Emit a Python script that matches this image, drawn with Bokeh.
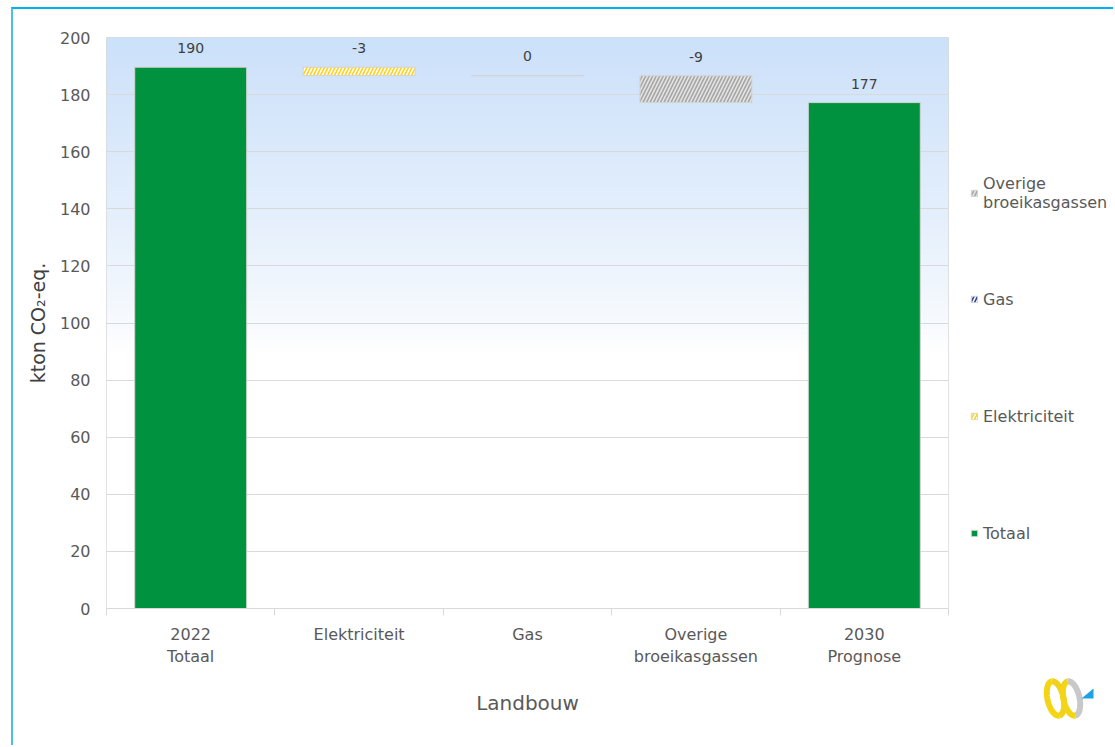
import numpy as np
from bokeh.plotting import figure
from bokeh.models import ColumnDataSource, FixedTicker, Legend, LegendItem, Range1d
from bokeh.core.properties import value
from bokeh.embed import file_html
from bokeh.resources import INLINE

# ---- data -------------------------------------------------------------
categories = ["2022\nTotaal", "Elektriciteit", "Gas", "Overige\nbroeikasgassen", "2030\nPrognose"]
series = ["Totaal", "Elektriciteit", "Gas", "Overige broeikasgassen", "Totaal"]
total_2022 = 189.6
changes = [-2.9, -0.1, -9.4]          # Elektriciteit, Gas, Overige broeikasgassen
y_ticks = [0, 20, 40, 60, 80, 100, 120, 140, 160, 180, 200]

# ---- waterfall geometry ----------------------------------------------
level = total_2022
tops, bottoms, values = [total_2022], [0.0], [total_2022]
for c in changes:
    new = level + c
    tops.append(max(level, new))
    bottoms.append(min(level, new))
    values.append(c)
    level = new
tops.append(level)
bottoms.append(0.0)
values.append(level)

xs = list(range(len(categories)))
style = {
    "Totaal": dict(fill="#00923f", hatch=" ", hcol="#ffffff"),
    "Elektriciteit": dict(fill="#ffd21f", hatch="/", hcol="#ffffff"),
    "Gas": dict(fill="#2e3f98", hatch="/", hcol="#ffffff"),
    "Overige broeikasgassen": dict(fill="#a6a6a6", hatch="/", hcol="#e4e4e4"),
}

src = ColumnDataSource(dict(
    x=xs, top=tops, bottom=bottoms,
    label=[str(int(round(v))) for v in values],
    fill=[style[s]["fill"] for s in series],
    hatch=[style[s]["hatch"] for s in series],
    hcol=[style[s]["hcol"] for s in series],
))

FONT = "DejaVu Sans"
TXT = "#595959"
BAR_STYLE = dict(fill_color="fill", line_color="#d4d4d4", line_width=1,
                 hatch_pattern="hatch", hatch_color="hcol", hatch_scale=7, hatch_weight=1.6)

p = figure(width=1102, height=738, output_backend="svg", toolbar_location=None,
           x_range=Range1d(-0.5, 4.5), y_range=Range1d(0, 200),
           min_border_left=93, min_border_top=28, min_border_right=167, min_border_bottom=139)
p.styles = {"margin-left": "11px", "margin-top": "7px",
            "border-left": "2px solid #4fbde9", "border-top": "2px solid #00b0f0"}
p.outline_line_color = "#d9d9d9"
p.background_fill_color = "#ffffff"
p.border_fill_color = "#ffffff"

# soft blue-to-white backdrop of the plot area
nrow = 200
t = np.linspace(0, 1, nrow)[:, None]            # 0 = bottom, 1 = top
w = np.clip((t - 0.45) / 0.55, 0, 1) ** 0.8
top_col = np.array([204, 225, 250])
rgb = 255 - (255 - top_col) * w
img = np.zeros((nrow, 1), dtype=np.uint32)
view = img.view(dtype=np.uint8).reshape((nrow, 1, 4))
view[:, :, 0] = rgb[:, 0:1]
view[:, :, 1] = rgb[:, 1:2]
view[:, :, 2] = rgb[:, 2:3]
view[:, :, 3] = 255
p.image_rgba(image=[img], x=-0.5, y=0, dw=5, dh=200, level="image")

bars = p.vbar(x="x", top="top", bottom="bottom", width=0.665, source=src, **BAR_STYLE)

p.text(x="x", y="top", text="label", source=src, text_align="center", text_baseline="middle",
       y_offset=-19, text_font=value(FONT), text_font_size="14px", text_color="#404040")

# grid
p.xgrid.grid_line_color = None
p.ygrid.grid_line_color = "#d9d9d9"
p.ygrid.ticker = FixedTicker(ticks=y_ticks)

# y axis
ya = p.yaxis[0]
ya.ticker = FixedTicker(ticks=y_ticks)
ya.axis_line_color = None
ya.major_tick_line_color = None
ya.minor_tick_line_color = None
ya.major_tick_out = 0
ya.major_tick_in = 0
ya.major_label_standoff = 16
ya.major_label_text_font = FONT
ya.major_label_text_font_size = "16px"
ya.major_label_text_color = TXT
ya.axis_label = "kton CO₂-eq."
ya.axis_label_text_font = FONT
ya.axis_label_text_font_size = "19px"
ya.axis_label_text_font_style = "normal"
ya.axis_label_text_color = "#404040"
ya.axis_label_standoff = 8

# x axis: labels at category centres, tick marks between categories
xa = p.xaxis[0]
xa.ticker = FixedTicker(ticks=xs, minor_ticks=[i - 0.5 for i in range(len(categories) + 1)])
xa.major_label_overrides = {i: c for i, c in enumerate(categories)}
xa.axis_line_color = "#d9d9d9"
xa.major_tick_line_color = None
xa.major_tick_out = 0
xa.major_tick_in = 0
xa.minor_tick_line_color = "#d9d9d9"
xa.minor_tick_out = 7
xa.minor_tick_in = 0
xa.major_label_standoff = 9
xa.major_label_text_font = FONT
xa.major_label_text_font_size = "16px"
xa.major_label_text_color = TXT
xa.axis_label = "Landbouw"
xa.axis_label_text_font = FONT
xa.axis_label_text_font_size = "20px"
xa.axis_label_text_font_style = "normal"
xa.axis_label_text_color = TXT
xa.axis_label_standoff = 22

# ---- legend panel to the right of the plot area ------------------------
leg = figure(width=155, height=420, output_backend="svg", toolbar_location=None,
             x_range=Range1d(100, 101), y_range=Range1d(500, 501),
             min_border=0, outline_line_color=None)
leg.axis.visible = False
leg.grid.visible = False
leg.background_fill_alpha = 0
leg.border_fill_alpha = 0
leg.styles = {"position": "absolute", "left": "960px", "top": "150px"}
# same bars, kept outside the visible ranges; they only supply the legend swatches
leg_bars = leg.vbar(x="x", top="top", bottom="bottom", width=0.665, source=src, **BAR_STYLE)

common = dict(orientation="vertical", glyph_width=8, glyph_height=8, label_height=20,
              label_standoff=5, padding=0, margin=0, border_line_color=None,
              background_fill_alpha=0, label_text_font=FONT, label_text_font_size="16px",
              label_text_color=TXT, label_text_line_height=1.25)
leg.add_layout(Legend(items=[
    LegendItem(label="Overige\nbroeikasgassen", renderers=[leg_bars], index=3),
], location=(10, 358), **common), "center")
leg.add_layout(Legend(items=[
    LegendItem(label="Gas", renderers=[leg_bars], index=2),
    LegendItem(label="Elektriciteit", renderers=[leg_bars], index=1),
    LegendItem(label="Totaal", renderers=[leg_bars], index=0),
], location=(10, 27), spacing=97, **common), "center")

# ---- small brand mark in the lower right corner ------------------------
logo = figure(width=80, height=60, output_backend="svg", toolbar_location=None,
              x_range=Range1d(0, 80), y_range=Range1d(0, 60),
              min_border=0, outline_line_color=None)
logo.axis.visible = False
logo.grid.visible = False
logo.background_fill_alpha = 0
logo.border_fill_alpha = 0
logo.styles = {"position": "absolute", "left": "1035px", "top": "668px"}


def ring(cx, a0, a1):
    a = np.linspace(a0, a1, 60)
    ex, ey = 8 * np.cos(a), 17.5 * np.sin(a)
    tilt = 0.22
    return cx + ex * np.cos(tilt) - ey * np.sin(tilt), 30 + ex * np.sin(tilt) + ey * np.cos(tilt)


for cx in (20, 36):
    gx, gy = ring(cx, -np.pi / 2, np.pi / 2)
    logo.line(gx, gy, line_color="#c8c8c8" if cx == 36 else "#f0d21e", line_width=6)
    yx, yy = ring(cx, np.pi / 2, 3 * np.pi / 2)
    logo.line(yx, yy, line_color="#f3d516", line_width=6)
logo.patch([46, 58, 58], [30, 40, 30], fill_color="#1ea1e6", line_color=None)

open("out.html", "w").write(file_html([p, leg, logo], INLINE))
